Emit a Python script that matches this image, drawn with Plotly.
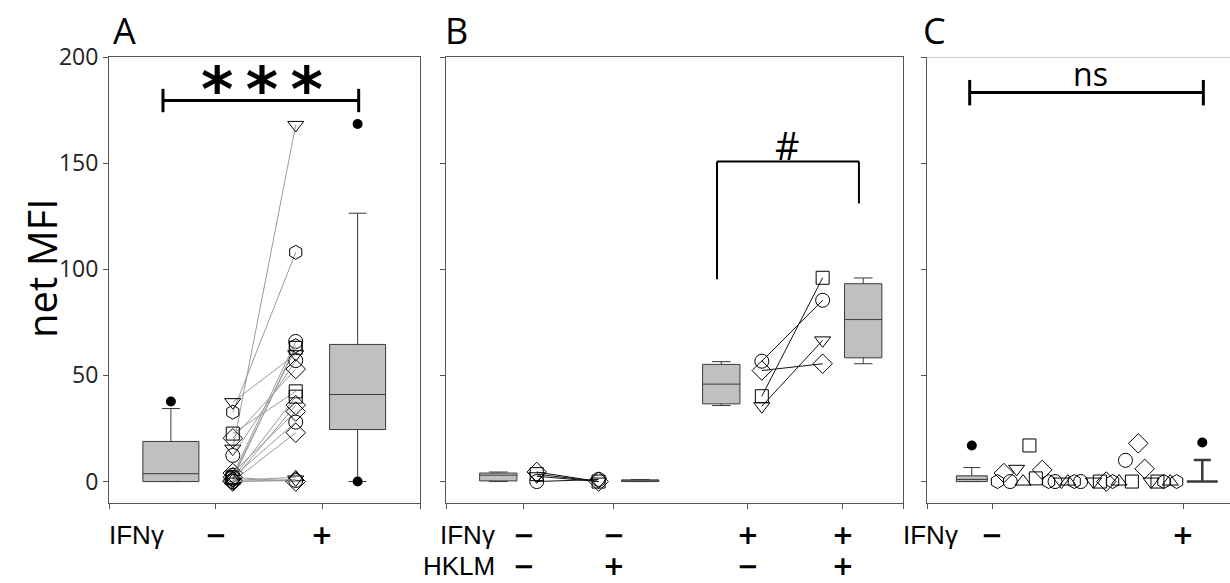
import plotly.graph_objects as go

# ---------------- data ----------------
# Panel A: IFNγ − / + (paired donors plus summary boxes)
a_symbols = ["triangle-down", "hexagon", "circle", "square", "hexagon", "circle",
             "diamond", "square", "square", "diamond", "diamond", "circle",
             "diamond", "triangle-down", "triangle-up", "circle", "diamond", "triangle-down"]
a_before = [15.5, 32.7, 3.0, 2.0, 1.0, 12.3, 20.4, 22.6, 1.5, 0.5, 4.0, 2.0, 0.0, 37.4, 0.5, 0.0, 2.0, 0.0]
a_after = [168.0, 108.0, 66.0, 63.0, 64.0, 57.0, 53.0, 42.5, 40.0, 36.0, 33.0, 28.0, 23.0, 60.0, 2.0, 0.5, 0.0, 1.0]
a_box_stats = {  # q1, median, q3, lower whisker, upper whisker
    "neg": [0.0, 3.7, 18.9, 0.0, 34.4],
    "pos": [24.5, 41.0, 64.6, 0.0, 126.4],
}
a_outliers = {"neg": [37.7], "pos": [168.4, 0.0]}

# Panel B: IFNγ / HKLM combinations
b_symbols = ["circle", "square", "triangle-down", "diamond"]
b_g1 = [0.0, 3.5, 2.5, 4.5]     # IFNγ −, HKLM −
b_g2 = [1.0, 0.0, 0.0, 0.0]     # IFNγ −, HKLM +
b_g3 = [56.7, 40.2, 35.5, 52.3]  # IFNγ +, HKLM −
b_g4 = [85.4, 96.0, 66.5, 55.5]  # IFNγ +, HKLM +
b_box_stats = [
    [0.3, 3.0, 4.0, 0.0, 4.5],
    [0.0, 0.3, 0.8, 0.0, 1.0],
    [36.6, 45.9, 55.2, 35.8, 56.5],
    [58.3, 76.3, 93.2, 55.5, 95.9],
]

# Panel C: IFNγ − / +
c_symbols_neg = ["hexagon", "diamond", "circle", "triangle-down", "triangle-up", "square", "square",
                 "diamond", "hexagon", "circle", "triangle-down", "triangle-up", "hexagon", "circle"]
c_values_neg = [0.0, 4.0, 0.0, 6.0, 0.0, 17.0, 1.5, 5.5, 0.0, 0.0, 0.0, 0.0, 0.0, 0.0]
c_symbols_pos = ["triangle-down", "square", "diamond", "hexagon", "triangle-up", "circle", "square",
                 "diamond", "diamond", "triangle-down", "square", "hexagon", "triangle-up", "hexagon"]
c_values_pos = [0.0, 0.0, 0.0, 0.0, 0.0, 10.0, 0.0, 18.0, 6.0, 0.0, 0.0, 0.0, 0.0, 0.0]
c_box_stats = {"neg": [0.0, 1.0, 2.7, 0.0, 6.6], "pos": [0.0, 0.0, 0.0, 0.0, 10.2]}
c_outliers = {"neg": [17.0], "pos": [18.4]}

y_ticks = [0, 50, 100, 150, 200]

# ---------------- layout helpers ----------------
W, H = 1230, 583
UNIT = 106.7          # pixels per x unit, same in all panels
FONT = "Open Sans"
BOX_FILL = "#c0c0c0"
BOX_LINE = "#3a3a3a"
SYM_SIZE = {"circle": 14, "square": 13, "diamond": 15, "triangle-down": 14,
            "triangle-up": 14, "hexagon": 14}

panels = {  # left px, right px
    "A": (109, 420),
    "B": (446, 903),
    "C": (927, 1230),
}
top_px, bottom_px = 57, 503
y_range = [-10.1, 200]

fig = go.Figure()


def add_box(xref, pos, stats, width, whisker, median_width=1):
    q1, med, q3, lo, hi = stats
    fig.add_trace(go.Box(
        x=[pos], q1=[q1], median=[med], q3=[q3], lowerfence=[lo], upperfence=[hi],
        width=width, whiskerwidth=whisker, fillcolor=BOX_FILL,
        line=dict(color=BOX_LINE, width=median_width), boxpoints=False,
        xaxis=xref, yaxis=xref.replace("x", "y"), showlegend=False, hoverinfo="skip",
    ))


def add_dots(xref, pos, vals):
    fig.add_trace(go.Scatter(
        x=[pos] * len(vals), y=vals, mode="markers",
        marker=dict(color="black", size=10, symbol="circle"),
        xaxis=xref, yaxis=xref.replace("x", "y"), showlegend=False, hoverinfo="skip",
    ))


def add_pair(xref, x0, x1, s, v0, v1, line_color):
    fig.add_trace(go.Scatter(
        x=[x0, x1], y=[v0, v1], mode="lines+markers",
        line=dict(color=line_color, width=1),
        marker=dict(symbol=s + "-open", size=SYM_SIZE[s],
                    color="black", line=dict(color="#222222", width=1)),
        xaxis=xref, yaxis=xref.replace("x", "y"), showlegend=False, hoverinfo="skip",
    ))


# ---------------- panel A ----------------
A_POS = {"box_neg": 0.58, "pts_neg": 1.16, "pts_pos": 1.75, "box_pos": 2.33}
add_box("x", A_POS["box_neg"], a_box_stats["neg"], 0.525, 0.32)
add_box("x", A_POS["box_pos"], a_box_stats["pos"], 0.525, 0.32)
for s, b, a in zip(a_symbols, a_before, a_after):
    add_pair("x", A_POS["pts_neg"], A_POS["pts_pos"], s, b, a, "#9a9a9a")
add_dots("x", A_POS["box_neg"], a_outliers["neg"])
add_dots("x", A_POS["box_pos"], a_outliers["pos"])

# ---------------- panel B ----------------
B_BOX = [0.49, 1.82, 2.58, 3.91]
B_PTS = [0.85, 1.43, 2.96, 3.53]
for pos, st in zip(B_BOX, b_box_stats):
    add_box("x2", pos, st, 0.35, 0.5)
for s, v1, v2 in zip(b_symbols, b_g1, b_g2):
    add_pair("x2", B_PTS[0], B_PTS[1], s, v1, v2, "#111111")
for s, v3, v4 in zip(b_symbols, b_g3, b_g4):
    add_pair("x2", B_PTS[2], B_PTS[3], s, v3, v4, "#111111")

# ---------------- panel C ----------------
C_BOX = {"neg": 0.42, "pos": 2.58}
add_box("x3", C_BOX["neg"], c_box_stats["neg"], 0.29, 0.55)
add_box("x3", C_BOX["pos"], c_box_stats["pos"], 0.29, 0.55, median_width=2.5)
add_dots("x3", C_BOX["neg"], c_outliers["neg"])
add_dots("x3", C_BOX["pos"], c_outliers["pos"])


def spread(start, step, n):
    return [start + i * step for i in range(n)]


for xs, syms, vals in ((spread(0.66, 0.06, len(c_values_neg)), c_symbols_neg, c_values_neg),
                       (spread(1.56, 0.06, len(c_values_pos)), c_symbols_pos, c_values_pos)):
    for x, s, v in zip(xs, syms, vals):
        fig.add_trace(go.Scatter(
            x=[x], y=[v], mode="markers",
            marker=dict(symbol=s + "-open", size=SYM_SIZE[s], color="black",
                        line=dict(color="#222222", width=1)),
            xaxis="x3", yaxis="y3", showlegend=False, hoverinfo="skip",
        ))

# ---------------- axes ----------------
y_dom = [1 - bottom_px / H, 1 - top_px / H]
axis_common = dict(showgrid=False, zeroline=False, ticks="outside", ticklen=5,
                   tickcolor="#555555", linecolor="#555555", linewidth=1, automargin=False)
tick_pos = {"A": [0, 1.0, 2.0, 311 / UNIT],
            "B": [0, 0.73, 1.57, 2.83, 3.72, 457 / UNIT],
            "C": [0, 0.61, 2.40]}
for i, (key, (l, r)) in enumerate(panels.items()):
    sfx = "" if i == 0 else str(i + 1)
    width_units = (r - l) / UNIT
    mirror = key != "C"
    fig.update_layout(**{
        "xaxis" + sfx: dict(axis_common, domain=[l / W, r / W], range=[0, width_units],
                            tickvals=tick_pos[key], showticklabels=False, showline=True,
                            mirror=mirror, anchor="y" + sfx),
        "yaxis" + sfx: dict(axis_common, domain=y_dom, range=y_range, tickvals=y_ticks,
                            showticklabels=(key == "A"), showline=True, mirror=mirror,
                            anchor="x" + sfx,
                            tickfont=dict(family=FONT, size=23, color="#222222")),
    })

# Panel C top frame line (panel runs off the right edge)
fig.add_shape(type="line", xref="x3", yref="y3", x0=0, x1=303 / UNIT, y0=y_range[1], y1=y_range[1],
              line=dict(color="#bbbbbb", width=1.5))

# ---------------- significance brackets ----------------
blk = dict(color="black", width=3)
fig.add_shape(type="line", xref="x", yref="y", x0=0.506, x1=2.34, y0=179.5, y1=179.5, line=blk)
for xx in (0.506, 2.34):
    fig.add_shape(type="line", xref="x", yref="y", x0=xx, x1=xx, y0=174, y1=185, line=blk)
fig.add_annotation(xref="x", yref="y", x=1.43, y=184.5, text="<b>*\u2009*\u2009*</b>", showarrow=False,
                   font=dict(family="DejaVu Sans", size=62, color="black"), yanchor="middle")

blk2 = dict(color="black", width=2)
fig.add_shape(type="line", xref="x2", yref="y2", x0=2.54, x1=3.87, y0=150.8, y1=150.8, line=blk2)
fig.add_shape(type="line", xref="x2", yref="y2", x0=2.54, x1=2.54, y0=95.3, y1=150.8, line=blk2)
fig.add_shape(type="line", xref="x2", yref="y2", x0=3.87, x1=3.87, y0=131, y1=150.8, line=blk2)
fig.add_annotation(xref="x2", yref="y2", x=3.2, y=158.5, text="#", showarrow=False,
                   font=dict(family=FONT, size=38, color="black"), yanchor="middle")

fig.add_shape(type="line", xref="x3", yref="y3", x0=0.40, x1=2.59, y0=183.3, y1=183.3, line=blk)
for xx in (0.40, 2.59):
    fig.add_shape(type="line", xref="x3", yref="y3", x0=xx, x1=xx, y0=177.2, y1=189.2, line=blk)
fig.add_annotation(xref="x3", yref="y3", x=1.53, y=192, text="ns", showarrow=False,
                   font=dict(family=FONT, size=32, color="black"), yanchor="middle")

# ---------------- text: panel letters, axis title, condition rows ----------------
for letter, xpx in (("A", 111), ("B", 443), ("C", 921)):
    fig.add_annotation(xref="paper", yref="paper", x=xpx / W, y=1 - 30 / H, text=letter,
                       showarrow=False, xanchor="left", yanchor="middle",
                       font=dict(family=FONT, size=36, color="black"))

fig.add_annotation(xref="paper", yref="paper", x=42 / W, y=1 - 269 / H, text="net MFI",
                   textangle=-90, showarrow=False, xanchor="center", yanchor="middle",
                   font=dict(family=FONT, size=40, color="black"))

# condition rows: compact fonts so the two stacked rows stay clear of each other
row1, row2 = 1 - 535 / H, 1 - 566 / H
lab_font = dict(family="Liberation Sans", size=26, color="black")
sign_font = dict(family="DejaVu Sans", size=26, color="black")


def row_label(xpx, y, text):
    fig.add_annotation(xref="paper", yref="paper", x=xpx / W, y=y, text=text, showarrow=False,
                       xanchor="right", yanchor="middle", font=lab_font)


def sign(xref, x, y, plus):
    fig.add_annotation(xref=xref, yref="paper", x=x, y=y, text="<b>+</b>" if plus else "<b>−</b>",
                       showarrow=False, xanchor="center", yanchor="middle", font=sign_font)


a_ifn = [False, True]
b_ifn = [False, False, True, True]
b_hklm = [False, True, False, True]
c_ifn = [False, True]

row_label(166, row1, "IFNγ")
for x, p in zip(tick_pos["A"][1:3], a_ifn):
    sign("x", x, row1, p)
row_label(497, row1, "IFNγ")
row_label(497, row2, "HKLM")
for x, p1, p2 in zip(tick_pos["B"][1:5], b_ifn, b_hklm):
    sign("x2", x, row1, p1)
    sign("x2", x, row2, p2)
row_label(960, row1, "IFNγ")
for x, p in zip(tick_pos["C"][1:3], c_ifn):
    sign("x3", x, row1, p)

fig.update_layout(width=W, height=H, margin=dict(l=0, r=0, t=0, b=0),
                  paper_bgcolor="white", plot_bgcolor="white", showlegend=False)

fig.write_html("out.html")
